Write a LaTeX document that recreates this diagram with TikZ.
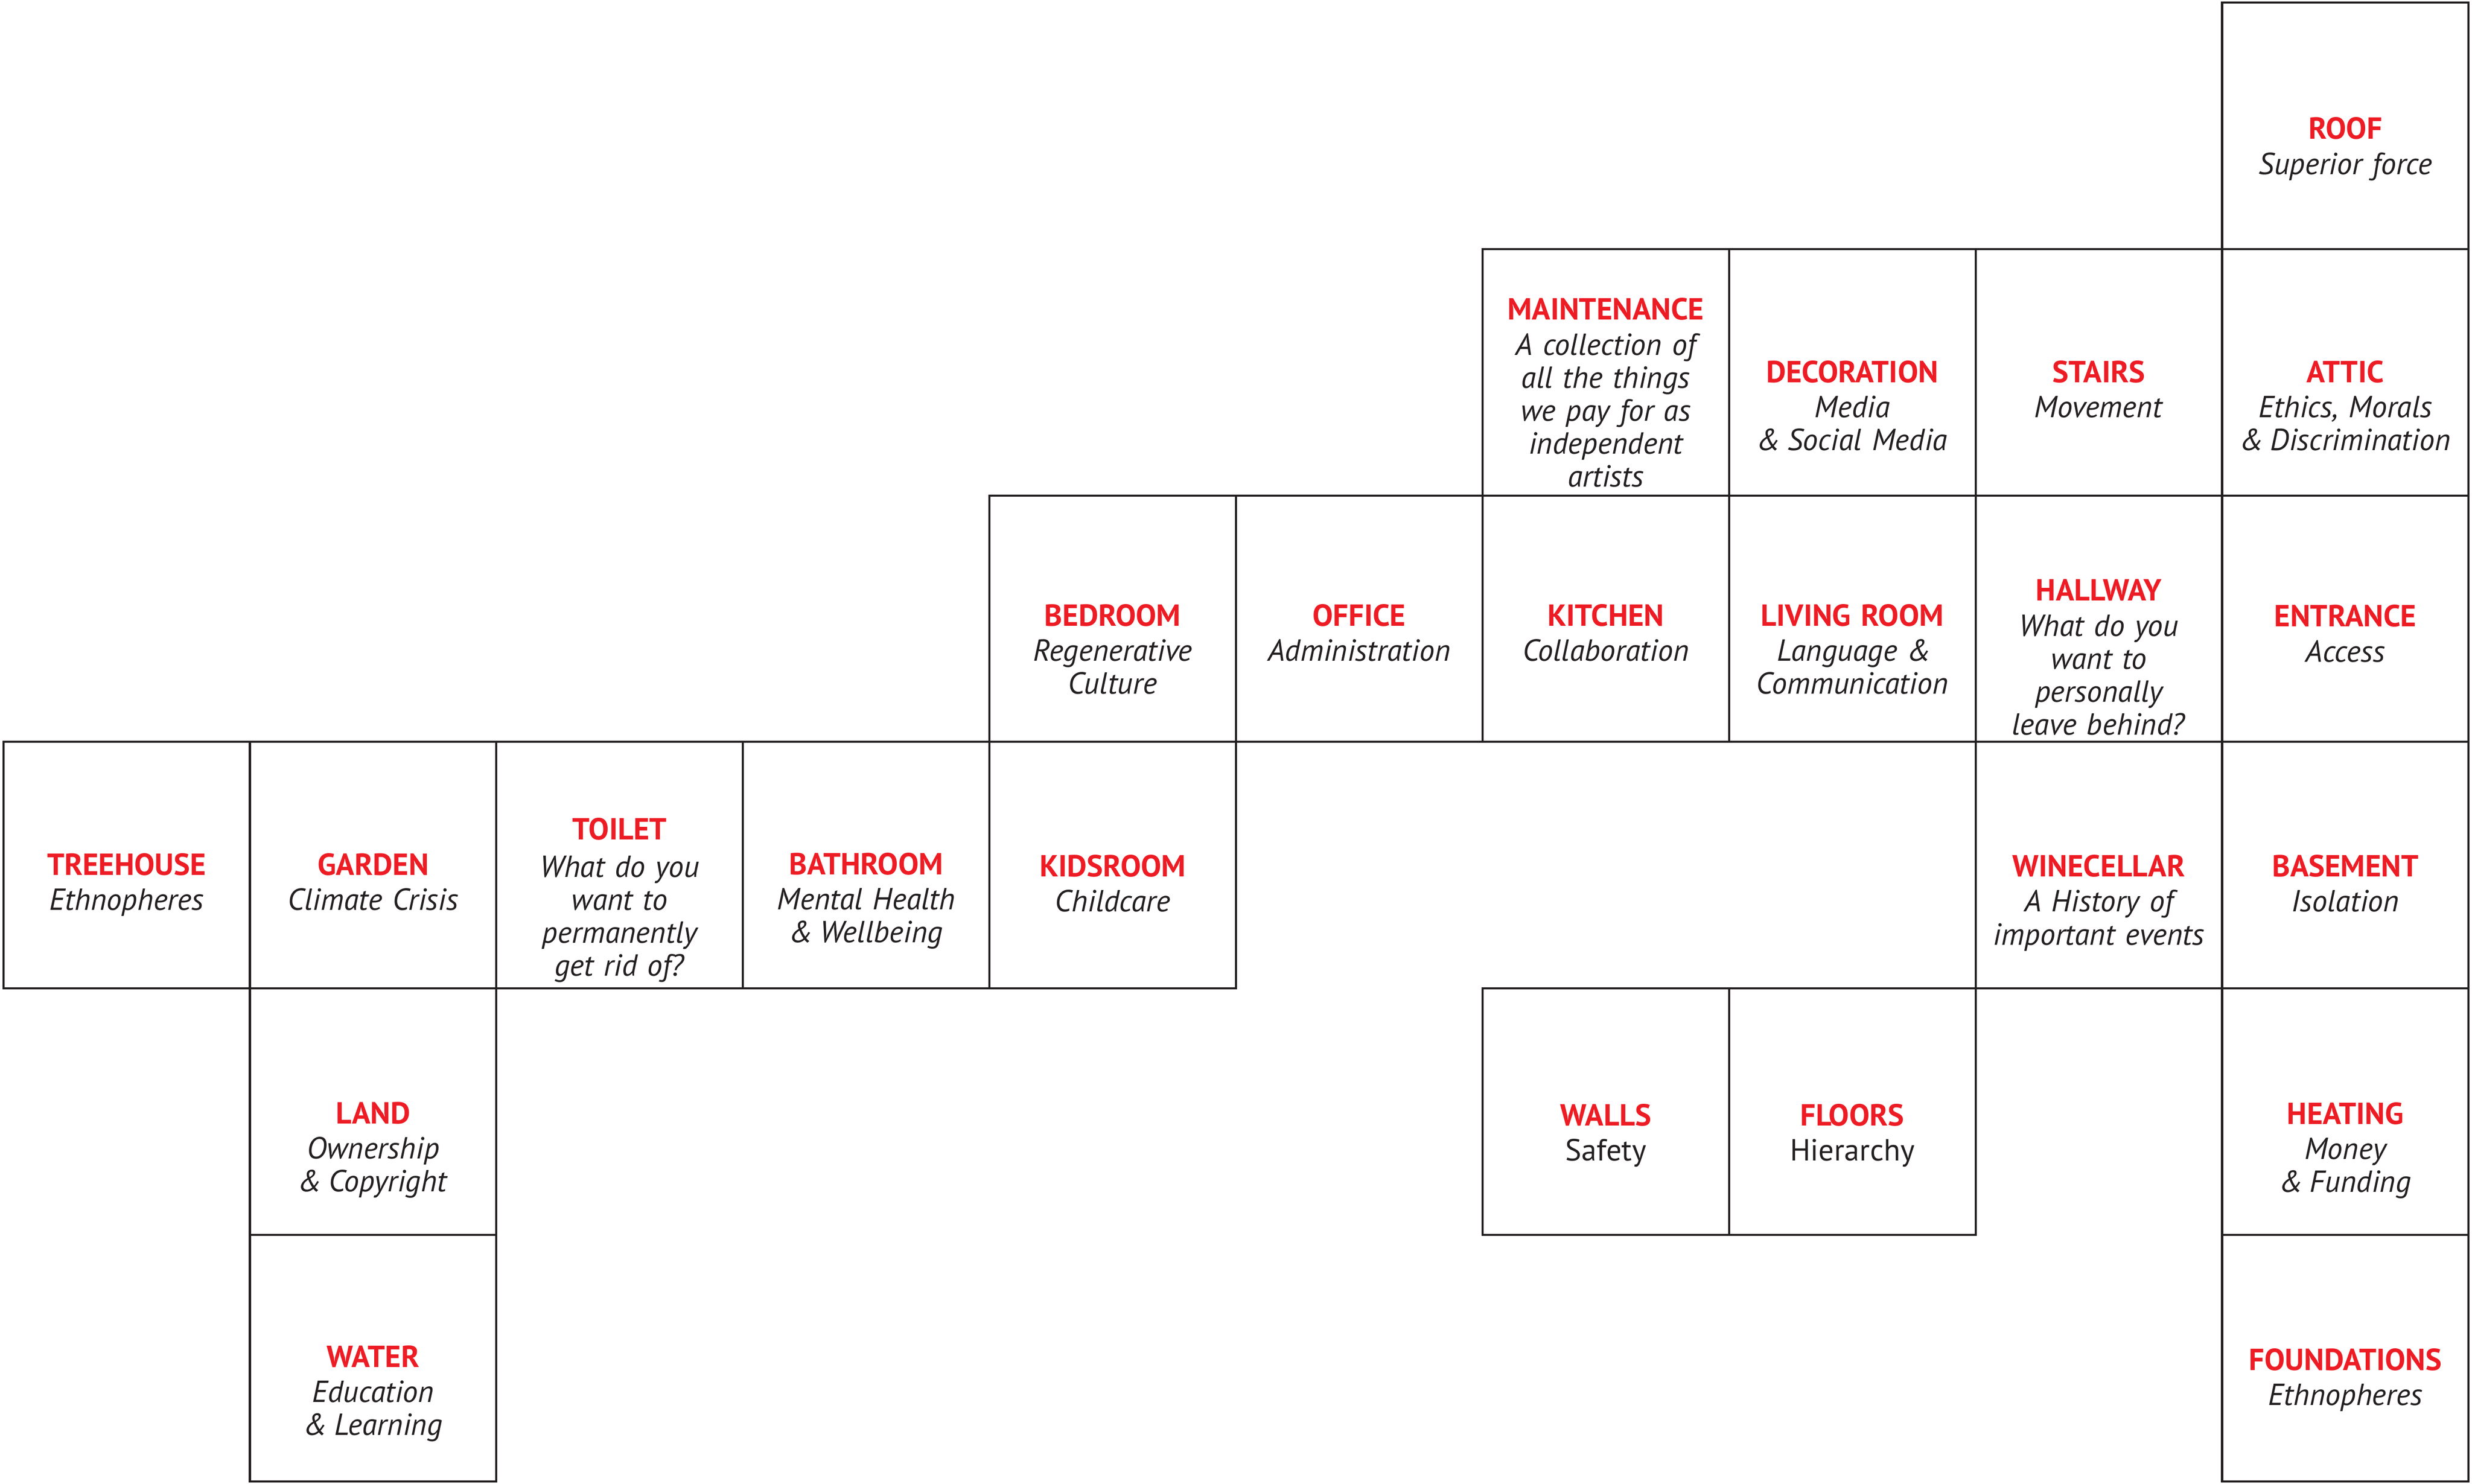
\documentclass[tikz,border=0pt]{standalone}
\usepackage{fontspec}
\setmainfont{PT Sans}
\usepackage{tikz}
\usetikzlibrary{positioning}

\definecolor{roomred}{RGB}{237,28,36}
\definecolor{ink}{RGB}{35,31,32}

\tikzset{
  room/.style={draw=ink, line width=0.6pt, minimum size=2.5cm, inner sep=0pt},
  roomtext/.style={text width=2.45cm, align=center, anchor=base, inner sep=0pt,
    text=ink, font=\fontsize{8.8}{9.5}\selectfont}
}
\newcommand{\rtitle}[1]{\textcolor{roomred}{\textbf{#1}}}
\newcommand{\amp}{\&\kern-1pt}

\begin{document}
\begin{tikzpicture}
\useasboundingbox (-0.034,-0.025) rectangle (25.034,15.025);
% rooms, column by column from the left
	\node[room] (treehouse) at (1.25,6.25) {};
	\node[room] (garden) at (3.75,6.25) {};
	\node[room] (land) at (3.75,3.75) {};
	\node[room] (water) at (3.75,1.25) {};
	\node[room] (toilet) at (6.25,6.25) {};
	\node[room] (bathroom) at (8.75,6.25) {};
	\node[room] (bedroom) at (11.25,8.75) {};
	\node[room] (kidsroom) at (11.25,6.25) {};
	\node[room] (office) at (13.75,8.75) {};
	\node[room] (maintenance) at (16.25,11.25) {};
	\node[room] (kitchen) at (16.25,8.75) {};
	\node[room] (walls) at (16.25,3.75) {};
	\node[room] (decoration) at (18.75,11.25) {};
	\node[room] (livingroom) at (18.75,8.75) {};
	\node[room] (floors) at (18.75,3.75) {};
	\node[room] (stairs) at (21.25,11.25) {};
	\node[room] (hallway) at (21.25,8.75) {};
	\node[room] (winecellar) at (21.25,6.25) {};
	\node[room] (roof) at (23.75,13.75) {};
	\node[room] (attic) at (23.75,11.25) {};
	\node[room] (entrance) at (23.75,8.75) {};
	\node[room] (basement) at (23.75,6.25) {};
	\node[room] (heating) at (23.75,3.75) {};
	\node[room] (foundations) at (23.75,1.25) {};

% labels
	\node[roomtext] (treehouseT) at ([yshift=-0.1cm]treehouse.center) {\rtitle{TREEHOUSE}\\[0.6pt] \textit{Ethnopheres}};
	\node[roomtext] (gardenT) at ([yshift=-0.1cm]garden.center) {\rtitle{GARDEN}\\[0.6pt] \textit{Climate Crisis}};
	\node[roomtext] (landT) at ([yshift=-0.12cm]land.center) {\rtitle{LAND}\\[0.6pt] \textit{Ownership\\ \amp{} Copyright}};
	\node[roomtext] (waterT) at ([yshift=-0.09cm]water.center) {\rtitle{WATER}\\[0.6pt] \textit{Education\\ \amp{} Learning}};
	\node[roomtext] (toiletT) at ([yshift=0.26cm]toilet.center) {\rtitle{TOILET}\\[1.4pt] \textit{What do you\\ want to\\ permanently\\ get rid of?}};
	\node[roomtext] (bathroomT) at ([yshift=-0.095cm]bathroom.center) {\rtitle{BATHROOM}\\[0.6pt] \textit{Mental Health\\ \amp{} Wellbeing}};
	\node[roomtext] (bedroomT) at ([yshift=-0.075cm]bedroom.center) {\rtitle{BEDROOM}\\[0.6pt] \textit{Regenerative\\ Culture}};
	\node[roomtext] (kidsroomT) at ([yshift=-0.115cm]kidsroom.center) {\rtitle{KIDSROOM}\\[0.6pt] \textit{Childcare}};
	\node[roomtext] (officeT) at ([yshift=-0.075cm]office.center) {\rtitle{OFFICE}\\[0.6pt] \textit{Administration}};
	\node[roomtext] (maintenanceT) at ([yshift=0.53cm]maintenance.center) {\rtitle{MAINTENANCE}\\[0.6pt] \textit{A collection of\\ all the things\\ we pay for as\\ independent\\ artists}};
	\node[roomtext] (kitchenT) at ([yshift=-0.075cm]kitchen.center) {\rtitle{KITCHEN}\\[0.6pt] \textit{Collaboration}};
	\node[roomtext] (wallsT) at ([yshift=-0.14cm]walls.center) {\rtitle{WALLS}\\[0.6pt] Safety};
	\node[roomtext] (decorationT) at ([yshift=-0.105cm]decoration.center) {\rtitle{DECORATION}\\[0.6pt] \textit{Media\\ \amp{} Social Media}};
	\node[roomtext] (livingroomT) at ([yshift=-0.075cm]livingroom.center) {\rtitle{LIVING ROOM}\\[0.6pt] \textit{Language \amp\\ Communication}};
	\node[roomtext] (floorsT) at ([yshift=-0.14cm]floors.center) {\rtitle{FLOORS}\\[0.6pt] Hierarchy};
	\node[roomtext] (stairsT) at ([yshift=-0.105cm]stairs.center) {\rtitle{STAIRS}\\[0.6pt] \textit{Movement}};
	\node[roomtext] (hallwayT) at ([yshift=0.18cm]hallway.center) {\rtitle{HALLWAY}\\[0.6pt] \textit{What do you\\ want to\\ personally\\ leave behind?}};
	\node[roomtext] (winecellarT) at ([yshift=-0.118cm]winecellar.center) {\rtitle{WINECELLAR}\\[0.6pt] \textit{A History of\\ important events}};
	\node[roomtext] (roofT) at ([yshift=-0.137cm]roof.center) {\rtitle{ROOF}\\[0.6pt] \textit{Superior force}};
	\node[roomtext] (atticT) at ([yshift=-0.105cm]attic.center) {\rtitle{ATTIC}\\[0.6pt] \textit{Ethics, Morals\\ \amp{} Discrimination}};
	\node[roomtext] (entranceT) at ([yshift=-0.082cm]entrance.center) {\rtitle{ENTRANCE}\\[0.6pt] \textit{Access}};
	\node[roomtext] (basementT) at ([yshift=-0.118cm]basement.center) {\rtitle{BASEMENT}\\[0.6pt] \textit{Isolation}};
	\node[roomtext] (heatingT) at ([yshift=-0.126cm]heating.center) {\rtitle{HEATING}\\[0.6pt] \textit{Money\\ \amp{} Funding}};
	\node[roomtext] (foundationsT) at ([yshift=-0.123cm]foundations.center) {\rtitle{FOUNDATIONS}\\[0.6pt] \textit{Ethnopheres}};
\end{tikzpicture}
\end{document}
